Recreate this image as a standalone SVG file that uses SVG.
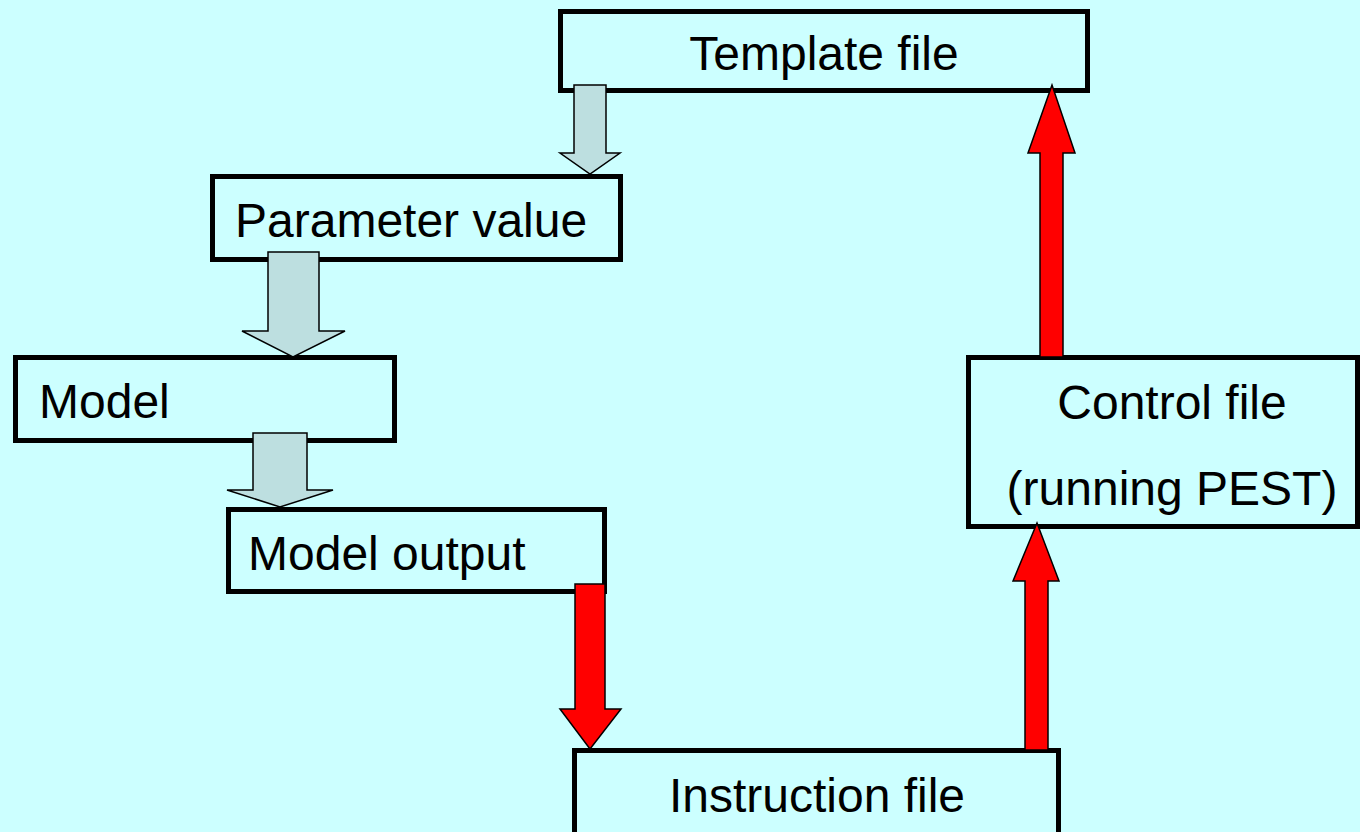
<svg xmlns="http://www.w3.org/2000/svg" width="1360" height="832" viewBox="0 0 1360 832">
  <style>
    .box { fill: #ccffff; stroke: #000000; stroke-width: 5; }
    .label { font-family: "Liberation Sans", Arial, sans-serif; font-size: 48px; fill: #000000; }
    .mid { text-anchor: middle; }
    .flow { fill: #bddfe0; stroke: #000000; stroke-width: 1.5; stroke-linejoin: miter; }
    .hot { fill: #ff0000; stroke: #000000; stroke-width: 1.5; stroke-linejoin: miter; }
  </style>

  <rect x="0" y="0" width="1360" height="832" fill="#ccffff"/>

  <g id="template-file">
    <rect class="box" x="560.5" y="11.5" width="527" height="79"/>
    <text class="label mid" x="824" y="70">Template file</text>
  </g>

  <g id="parameter-value">
    <rect class="box" x="212.5" y="176.5" width="408" height="83"/>
    <text class="label" x="235" y="237">Parameter value</text>
  </g>

  <g id="model">
    <rect class="box" x="15.5" y="357.5" width="379" height="83"/>
    <text class="label" x="39" y="418">Model</text>
  </g>

  <g id="model-output">
    <rect class="box" x="228.5" y="509.5" width="376" height="82"/>
    <text class="label" x="248" y="570">Model output</text>
  </g>

  <g id="instruction-file">
    <rect class="box" x="574.5" y="750.5" width="484" height="92"/>
    <text class="label mid" x="817" y="812">Instruction file</text>
  </g>

  <g id="control-file">
    <rect class="box" x="968.5" y="357.5" width="389" height="169"/>
    <text class="label mid" x="1172" y="419">Control file</text>
    <text class="label mid" x="1172" y="505">(running PEST)</text>
  </g>

  <!-- block arrows between the files -->
  <g id="connectors">
    <polygon class="flow" points="574,85 606,85 606,153 620,153 590,174 560,153 574,153"/>
    <polygon class="flow" points="268,252 319,252 319,331 345,331 293,357 242,331 268,331"/>
    <polygon class="flow" points="253,433 307,433 307,490 333,490 280,507 227,490 253,490"/>
    <polygon class="hot" points="575,584 605,584 605,709 621,709 590,749 560,709 575,709"/>
    <polygon class="hot" points="1025,750 1048,750 1048,581 1059,581 1037,523 1013,581 1025,581"/>
    <polygon class="hot" points="1040,357 1063,357 1063,153 1075,153 1052,85 1028,153 1040,153"/>
  </g>
</svg>
